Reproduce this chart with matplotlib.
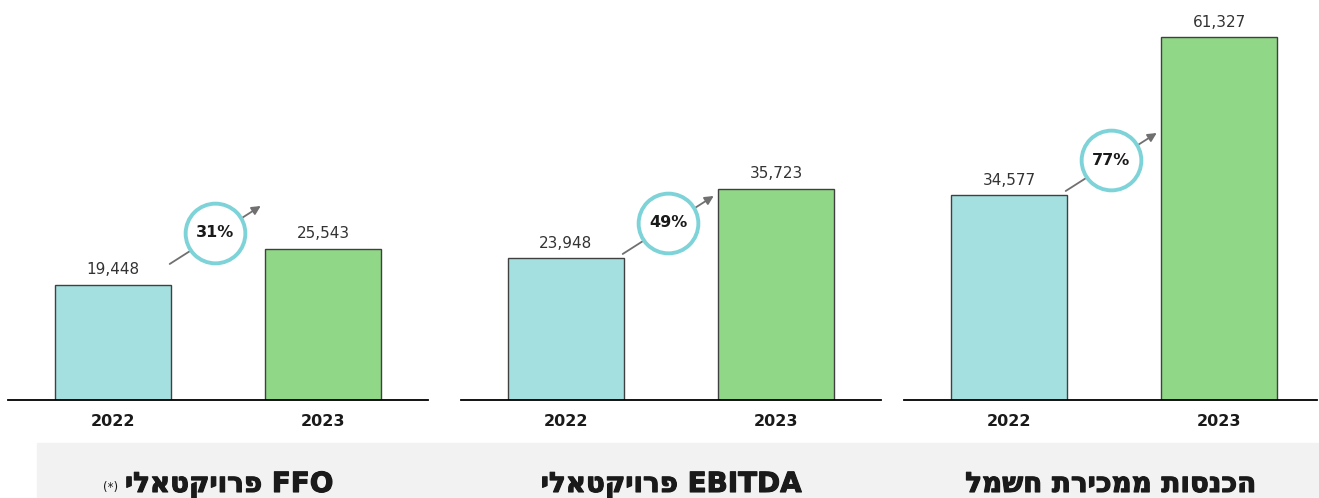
import numpy as np
import matplotlib
matplotlib.use("Agg")
import matplotlib.pyplot as plt
import matplotlib.patheffects as pe
from matplotlib import transforms
from matplotlib.patches import Rectangle

# ---------------------------------------------------------------------------
# Data
# ---------------------------------------------------------------------------
years = ["2022", "2023"]
titles = ["FFO פרויקטאלי", "EBITDA פרויקטאלי", "הכנסות ממכירת חשמל"]
values_2022 = [19448, 23948, 34577]
values_2023 = [25543, 35723, 61327]
title_notes = ["(*)", "", ""]
# height where each growth arrow starts
arrow_base = [22980, 24670, 35310]

# ---------------------------------------------------------------------------
# Style
# ---------------------------------------------------------------------------
W, H = 1319, 498
COL_2022 = "#a4e0e0"
COL_2023 = "#91d788"
EDGE = "#404040"
RING = "#7dd3d8"
ARROW = "#707070"
BAND = "#f2f2f2"
TEXT = "#1a1a1a"
TITLE_FONT = ["DejaVu Sans"]

px_per_unit = 0.005919          # vertical scale shared by all panels
ymax = 66000
panel_left = [8, 461, 904]
panel_right_lim = [1.5, 1.5, 1.467]
base_px = 98                    # baseline height from bottom of figure
arrow_dx, arrow_dy = 91, 58     # arrow length in pixels


def visual(text):
    """Put logical-order Hebrew into left-to-right display order."""
    words = text.split(" ")
    out = []
    for w in reversed(words):
        if any("\u0590" <= c <= "\u05ff" for c in w):
            out.append(w[::-1])
        else:
            out.append(w)
    return " ".join(out)


fig = plt.figure(figsize=(W / 100, H / 100), dpi=100)
fig.patches.append(Rectangle((37 / W, 0), 1 - 37 / W, 55 / H,
                             transform=fig.transFigure, color=BAND, zorder=-1))

for i in range(3):
    xr = panel_right_lim[i]
    width_px = (xr + 0.5) * 210
    ax = fig.add_axes([panel_left[i] / W, base_px / H,
                       width_px / W, ymax * px_per_unit / H])
    ax.set_xlim(-0.5, xr)
    ax.set_ylim(0, ymax)
    ax.patch.set_alpha(0)

    vals = [values_2022[i], values_2023[i]]
    bars = ax.bar([0, 1], vals, width=0.557, color=[COL_2022, COL_2023],
                  edgecolor=EDGE, linewidth=1.0, zorder=2)
    for b, v in zip(bars, vals):
        ax.annotate(f"{v:,}", (b.get_x() + b.get_width() / 2, v),
                    xytext=(0, 7.5), textcoords="offset points",
                    ha="center", va="baseline", fontsize=11, color="#333333")

    for s in ["top", "right", "left"]:
        ax.spines[s].set_visible(False)
    ax.spines["bottom"].set_color("black")
    ax.spines["bottom"].set_linewidth(1.3)
    ax.set_yticks([])
    ax.set_xticks([0, 1])
    ax.set_xticklabels(years, fontsize=11.5, fontweight="bold", color=TEXT)
    ax.tick_params(axis="x", length=0, pad=10)

    # growth arrow with ring label
    x0, y0 = 0.27, arrow_base[i]
    tip = transforms.offset_copy(ax.transData, fig=fig,
                                 x=arrow_dx, y=arrow_dy, units="dots")
    mid = transforms.offset_copy(ax.transData, fig=fig,
                                 x=arrow_dx / 2, y=arrow_dy / 2 + 2, units="dots")
    ax.annotate("", xy=(x0, y0), xycoords=tip, xytext=(x0, y0),
                textcoords="data",
                arrowprops=dict(arrowstyle="-|>", color=ARROW, lw=1.3,
                                mutation_scale=13, shrinkA=0, shrinkB=0),
                zorder=3)
    growth = (values_2023[i] / values_2022[i] - 1) * 100
    ax.plot([x0], [y0], transform=mid, marker="o", markersize=43,
            markerfacecolor="white", markeredgecolor=RING,
            markeredgewidth=2.8, zorder=4, clip_on=False)
    ax.text(x0, y0, f"{growth:.0f}%", transform=mid, ha="center",
            va="center", fontsize=11.5, fontweight="bold", color=TEXT,
            zorder=5)

    # panel title in the grey band (shifted right when a note sits on its left)
    shift = 11 if title_notes[i] else 0
    cx = (panel_left[i] + width_px / 2 + shift) / W
    t = fig.text(cx, 6 / H, visual(titles[i]), ha="center", va="baseline",
                 fontsize=20, fontweight="bold", color=TEXT,
                 family=TITLE_FONT,
                 path_effects=[pe.withStroke(linewidth=0.8, foreground=TEXT)])
    if title_notes[i]:
        ax.annotate(title_notes[i], xy=(0, 0), xycoords=t,
                    xytext=(-5, 3), textcoords="offset points",
                    ha="right", va="bottom", fontsize=8.5, color=TEXT,
                    annotation_clip=False)

fig.savefig("out.png", dpi=100)
